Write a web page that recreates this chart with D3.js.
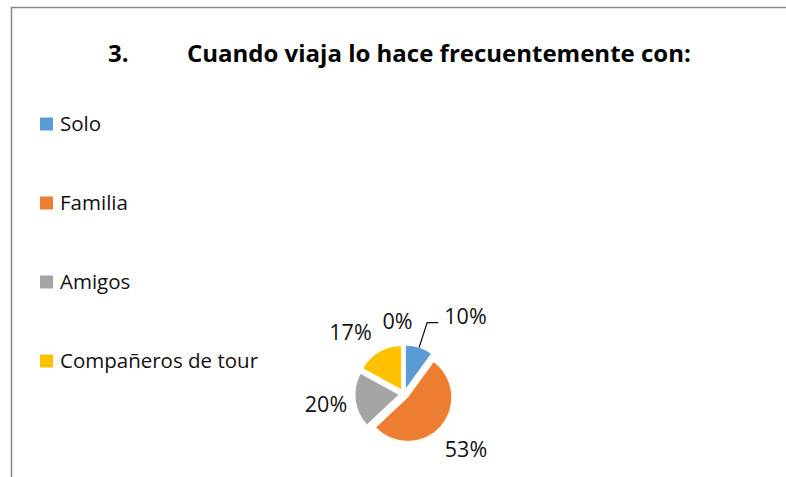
<!DOCTYPE html>
<html>
<head>
<meta charset="utf-8">
<script src="https://cdn.jsdelivr.net/npm/d3@7"></script>
<style>
  body { margin: 0; background: #fff; }
  svg { display: block; font-family: "Open Sans", sans-serif; }
</style>
</head>
<body>
<svg id="chart" width="786" height="477"></svg>
<script>
// data
const categories = ['Solo', 'Familia', 'Amigos', 'Compañeros de tour', ''];
const values = [10, 53, 20, 17, 0];
const colors = ['#5B9BD5', '#ED7D31', '#A5A5A5', '#FFC000', '#4472C4'];
const titleNumber = '3.';
const titleText = 'Cuando viaja lo hace frecuentemente con:';

// layout
const width = 786, height = 477;
const cx = 404, cy = 394;
const radius = 44;
const explode = 5;
// Excel moved a few labels around so they would not collide
const labelMoves = [
  {angle: 20, radius: 18, leader: true},
  null,
  null,
  {angle: -10},
  {angle: -5}
];

const svg = d3.select('#chart');

svg.append('rect')
    .attr('width', width)
    .attr('height', height)
    .attr('fill', '#fff');

// chart frame (only top and left edges are in the picture)
svg.append('path')
    .attr('d', `M11.5,${height} V7.5 H${width}`)
    .attr('fill', 'none')
    .attr('stroke', '#8a8a8a')
    .attr('stroke-width', 1.5);

// title
const title = svg.append('text')
    .attr('y', 62)
    .attr('font-weight', 'bold')
    .attr('font-size', 24)
    .attr('fill', '#000');
title.append('tspan').attr('x', 108).text(titleNumber);
title.append('tspan').attr('x', 187).text(titleText);

// legend
const legendNames = categories.filter(d => d !== '');
const legendY = d3.scalePoint()
    .domain(legendNames)
    .range([124, 361]);

const legend = svg.append('g')
  .selectAll('g')
  .data(legendNames)
  .join('g')
    .attr('transform', d => `translate(40,${legendY(d)})`);

legend.append('rect')
    .attr('y', -6.5)
    .attr('width', 13)
    .attr('height', 13)
    .attr('fill', (d, i) => colors[i]);

legend.append('text')
    .attr('x', 20)
    .attr('y', 7.3)
    .attr('font-size', 20.5)
    .attr('fill', '#111')
    .text(d => d);

// pie
const total = d3.sum(values);
const pct = d3.format('.0%');

const pie = d3.pie()
    .sort(null)
    .value(d => d);

const arcs = pie(values);

const arc = d3.arc()
    .innerRadius(0)
    .outerRadius(radius);

const unit = a => [Math.sin(a), -Math.cos(a)];
const midAngle = d => (d.startAngle + d.endAngle) / 2;

const g = svg.append('g')
    .attr('transform', `translate(${cx},${cy})`);

g.selectAll('path')
  .data(arcs)
  .join('path')
    .attr('transform', d => {
      const [ux, uy] = unit(midAngle(d));
      return `translate(${ux * explode},${uy * explode})`;
    })
    .attr('fill', (d, i) => colors[i])
    .attr('stroke', '#fff')
    .attr('stroke-width', 0.75)
    .attr('d', arc);

// data labels
const labels = g.selectAll('text.label')
  .data(arcs)
  .join('text')
    .attr('class', 'label')
    .attr('font-size', 21.5)
    .attr('fill', '#111')
    .attr('text-anchor', 'middle')
    .attr('dominant-baseline', 'central')
    .text(d => pct(d.value / total));

labels.each(function(d, i) {
  const w = this.getComputedTextLength();
  const move = labelMoves[i] || {};
  const a = midAngle(d) + (move.angle || 0) * Math.PI / 180;
  const [ux, uy] = unit(a);
  const r = radius + explode + 6.5 + Math.abs(ux) * w / 2 + Math.abs(uy) * 17 + (move.radius || 0);
  const x = ux * r, y = uy * r;
  d3.select(this).attr('x', x).attr('y', y);

  if (move.leader) {
    const [mx, my] = unit(midAngle(d));
    const r1 = radius + explode, r2 = 75;
    const pts = [
      [mx * r1, my * r1],
      [mx * r2, my * r2],
      [x - w / 2 - 6, my * r2]
    ];
    g.append('path')
        .attr('d', d3.line()(pts))
        .attr('fill', 'none')
        .attr('stroke', '#111')
        .attr('stroke-width', 1.25);
  }
});
</script>
</body>
</html>
